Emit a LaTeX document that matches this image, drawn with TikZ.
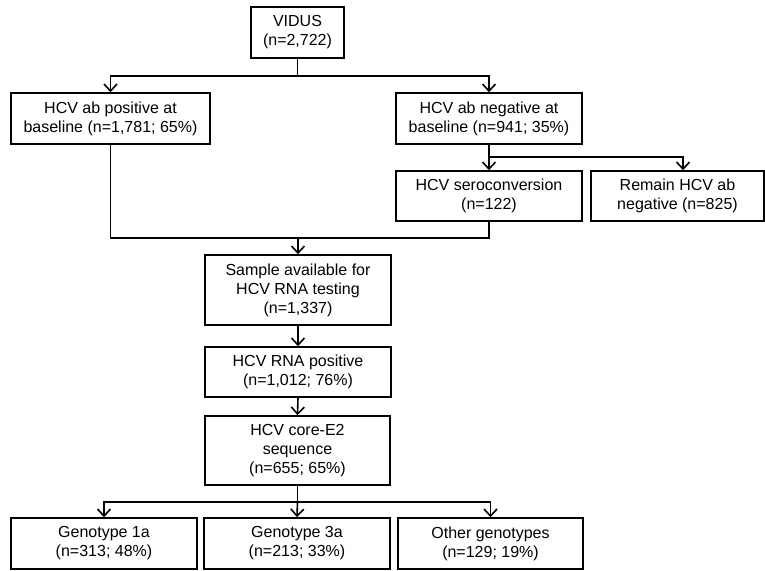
\documentclass[tikz,border=0pt]{standalone}
\usepackage{fontspec}
\setmainfont{Liberation Sans}
\usetikzlibrary{arrows.meta}
\begin{document}
\begin{tikzpicture}[x=1pt,y=-1pt,
  box/.style={draw=black,line width=1.6pt,fill=white,rectangle,align=center,
    inner sep=0pt,font=\fontsize{16}{19}\selectfont},
  line/.style={draw=black,line width=1.6pt},
  arr/.style={line,-{Straight Barb[length=7pt,width=13pt,line width=1.6pt]}}]
\fill[white] (0,0) rectangle (765,570);
\useasboundingbox (0,0) rectangle (765,570);
\node[box,minimum width=93pt,minimum height=51pt] (vidus) at (297.5,32.5) {VIDUS\\(n=2,722)};
\node[box,minimum width=199pt,minimum height=51pt] (pos) at (110.5,118.5) {HCV ab positive at\\baseline (n=1,781; 65\%)};
\node[box,minimum width=186pt,minimum height=51pt] (neg) at (489,118.5) {HCV ab negative at\\baseline (n=941; 35\%)};
\node[box,minimum width=186pt,minimum height=50pt] (sero) at (489,196) {HCV seroconversion\\(n=122)};
\node[box,minimum width=173pt,minimum height=50pt] (remain) at (677.5,196) {Remain HCV ab\\negative (n=825)};
\node[box,minimum width=186pt,minimum height=70pt] (sample) at (298,290) {Sample available for\\HCV RNA testing\\(n=1,337)};
\node[box,minimum width=186pt,minimum height=50pt] (rna) at (298,372) {HCV RNA positive\\(n=1,012; 76\%)};
\node[box,minimum width=185pt,minimum height=69pt] (core) at (297.5,450.5) {HCV core-E2\\sequence\\(n=655; 65\%)};
\node[box,minimum width=186pt,minimum height=51pt] (g1) at (104,543.5) {Genotype 1a\\(n=313; 48\%)};
\node[box,minimum width=186pt,minimum height=51pt] (g3) at (297,543.5) {Genotype 3a\\(n=213; 33\%)};
\node[box,minimum width=185pt,minimum height=51pt] (go) at (490.5,543.5) {Other genotypes\\(n=129; 19\%)};
% connectors
\coordinate (t1) at (297.5,76);
\draw[line] (vidus.south) -- (t1);
\draw[arr] (t1) -| (pos.north);
\draw[arr] (t1) -| (neg.north);
\coordinate (t2) at (489,157);
\draw[line] (neg.south) -- (t2);
\draw[arr] (t2) -- (sero.north);
\draw[arr] (t2) -| ([xshift=5.5pt]remain.north);
\coordinate (j) at (298,238);
\draw[line] (pos.south) |- (j) -| (sero.south);
\draw[arr] (j) -- (sample.north);
\draw[arr] (sample.south) -- (rna.north);
\draw[arr] (rna.south) -- (core.north);
\coordinate (t3) at (297.5,502);
\draw[line] (core.south) -- (t3);
\draw[arr] (t3) -| (g1.north);
\draw[arr] (t3) -- (g3.north);
\draw[arr] (t3) -| (go.north);
\end{tikzpicture}
\end{document}
